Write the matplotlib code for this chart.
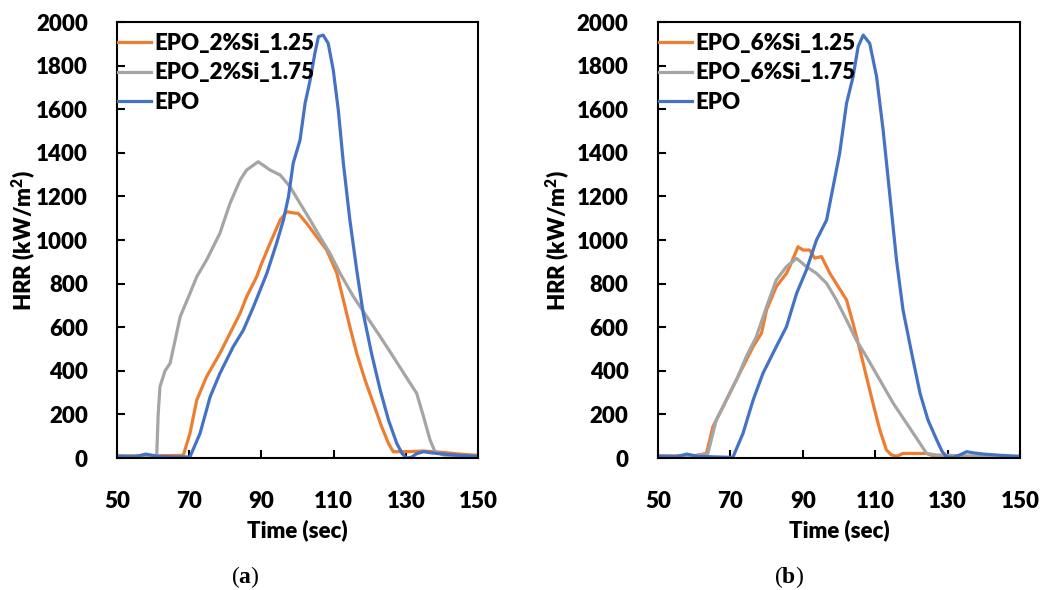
import matplotlib.pyplot as plt

plt.rcParams['font.family'] = ['Lato', 'DejaVu Sans']
plt.rcParams['mathtext.fontset'] = 'custom'
plt.rcParams['mathtext.bf'] = 'Liberation Serif:bold'

# Panel (a): EPO with 2 % Si
t_a_125 = [50, 60, 67.9, 68.4, 70.2, 72.1, 74.8, 78.5, 81.3, 84.1, 85.9, 88.7, 90, 92.4, 95.2,
           97, 98.5, 100.2, 102.5, 105.3, 108.1, 110.9, 112.7, 114.5, 116.4, 118.7, 121,
           123.3, 125.2, 126.5, 130, 135, 140, 145, 150]
hrr_a_125 = [10, 10, 12, 14, 113, 266, 373, 480, 572, 664, 740, 832, 890, 985, 1092,
             1130, 1125, 1122, 1077, 1015, 954, 847, 725, 602, 480, 358, 251,
             144, 67, 29, 29, 32, 26, 18, 12]

t_a_175 = [50, 55, 61, 61.4, 61.9, 63.3, 64.7, 67.5, 70.2, 72.1, 74.8, 78.5, 81.3, 84.1, 85.9,
           89.1, 92.4, 95.2, 97.9, 100.7, 103.5, 106.2, 109, 111.8, 115.5, 119.2, 122.9,
           126.5, 131.2, 133, 134.9, 136.7, 138.1, 140.4, 150]
hrr_a_175 = [10, 10, 12, 200, 327, 400, 434, 648, 755, 832, 908, 1031, 1168, 1275, 1321,
             1359, 1321, 1298, 1245, 1168, 1092, 1015, 939, 847, 740, 648, 557,
             465, 343, 297, 190, 83, 29, 14, 6]

t_a_epo = [50, 55, 58, 61, 66, 70.2, 73, 75.8, 78.5, 82.2, 85, 87.8, 91.5, 94.2, 96.1, 97.5,
           98.8, 100.7, 102.1, 103.5, 104.8, 105.8, 107.1, 108.5, 109.9, 111.3, 112.7,
           114.5, 116.4, 118.2, 120.5, 122.9, 125.2, 127.5, 129, 130.2, 131.5, 133,
           134.9, 137, 140.4, 145, 150]
hrr_a_epo = [8, 6, 18, 8, 5, 5, 113, 281, 388, 511, 587, 694, 847, 985, 1092, 1199,
             1352, 1459, 1627, 1734, 1856, 1933, 1940, 1902, 1780, 1596, 1352,
             1092, 862, 664, 480, 312, 174, 67, 20, 0, 3, 20,
             29, 24, 18, 12, 8]

# Panel (b): EPO with 6 % Si
t_b_125 = [50, 60, 63.4, 65.2, 68, 70.7, 73.5, 76.3, 78.6, 80, 82.7, 85.5, 86.4, 88.7, 90.1,
           91.9, 93.3, 95.2, 97.5, 99.8, 102.1, 103.9, 105.8, 107.6, 109.4, 111.3, 113.1,
           114.5, 116, 117.7, 124.2, 126, 130, 150]
hrr_b_125 = [10, 10, 21, 144, 235, 327, 419, 511, 572, 679, 786, 847, 878, 969, 954,
             954, 917, 924, 847, 786, 725, 618, 495, 373, 251, 128, 37,
             14, 8, 21, 21, 10, 6, 6]

t_b_175 = [50, 60, 63.8, 66.1, 68.9, 71.7, 74.4, 77.2, 80, 82.7, 85.5, 88.3, 91, 93.8, 96.6,
           99.3, 102.1, 104.8, 107.6, 111.3, 115, 118.7, 122.4, 124.2, 127, 135, 150]
hrr_b_175 = [10, 10, 21, 174, 266, 358, 465, 557, 694, 817, 878, 916, 878, 847, 801,
             725, 633, 541, 465, 358, 251, 159, 67, 21, 14, 10, 6]

t_b_epo = [50, 55, 58, 61, 66, 70.7, 73.5, 76.3, 79, 82.7, 85.5, 88.3, 91, 93.8, 96.6, 98.4,
           100.2, 102.1, 103.9, 105.3, 106.7, 108.5, 110.4, 112.2, 114.1, 115.9, 117.7,
           120.1, 122.4, 124.6, 127, 128.5, 129.7, 131.6, 133.5, 135.3, 137, 139.9, 145, 150]
hrr_b_epo = [8, 6, 18, 8, 5, 3, 113, 266, 388, 511, 602, 755, 862, 1000, 1092, 1245,
             1398, 1627, 1749, 1887, 1940, 1902, 1749, 1505, 1199, 908, 679,
             480, 297, 174, 83, 30, 6, 3, 15, 29, 24, 18, 12, 8]

orange = '#ED7D31'
gray = '#A5A5A5'
blue = '#4472C4'

fig = plt.figure(figsize=(10.41, 5.9), dpi=100)
ax_a = fig.add_axes([0.1124, 0.2237, 0.3468, 0.739])
ax_b = fig.add_axes([0.632, 0.2237, 0.3478, 0.739])

panels = [
    (ax_a, '2%Si', t_a_125, hrr_a_125, t_a_175, hrr_a_175, t_a_epo, hrr_a_epo, 'a', 0.236, -0.219),
    (ax_b, '6%Si', t_b_125, hrr_b_125, t_b_175, hrr_b_175, t_b_epo, hrr_b_epo, 'b', 0.758, -0.238),
]

for ax, si, x1, y1, x2, y2, x3, y3, tag, xpos, ylab_x in panels:
    ax.plot(x1, y1, color=orange, lw=2.3, label='EPO_' + si + '_1.25')
    ax.plot(x2, y2, color=gray, lw=2.3, label='EPO_' + si + '_1.75')
    ax.plot(x3, y3, color=blue, lw=2.3, label='EPO')
    ax.set_xlim(50, 150)
    ax.set_ylim(0, 2000)
    ax.set_xticks(range(50, 151, 20))
    ax.set_yticks(range(0, 2001, 200))
    ax.tick_params(direction='in', length=6, width=1.5, labelsize=16)
    ax.tick_params(axis='x', pad=24)
    ax.tick_params(axis='y', pad=21)
    for lbl in ax.get_xticklabels() + ax.get_yticklabels():
        lbl.set_fontweight('heavy')
    for sp in ax.spines.values():
        sp.set_linewidth(1.5)
    ax.set_xlabel('Time (sec)', fontsize=16, fontweight='heavy', labelpad=5)
    ax.set_ylabel('HRR (kW/m$^\\mathregular{2}$)', fontsize=16, fontweight='heavy')
    ax.yaxis.set_label_coords(ylab_x, 0.5)
    leg = ax.legend(loc='upper left', bbox_to_anchor=(0.003, 0.975), frameon=False,
                    fontsize=16, handlelength=1.5, handletextpad=0.12, labelspacing=0.38,
                    borderaxespad=0, borderpad=0)
    for txt in leg.get_texts():
        txt.set_fontweight('heavy')
    fig.text(xpos, 0.022, '($\\mathbf{' + tag + '}$)', fontsize=17,
             family='Liberation Serif', ha='center', va='center')

fig.savefig('out.png', dpi=100)
